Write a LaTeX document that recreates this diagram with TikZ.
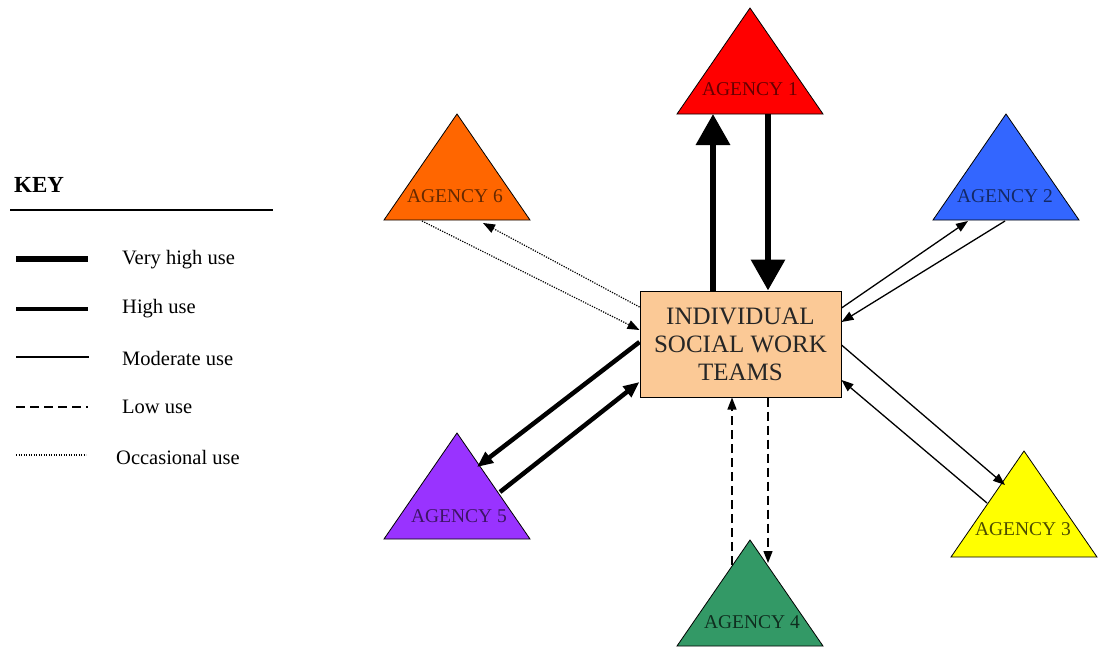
\documentclass[tikz,border=0pt]{standalone}
\usepackage{fontspec}
\setmainfont{Liberation Serif}
\usetikzlibrary{arrows.meta}
\definecolor{agred}{HTML}{FF0000}
\definecolor{agblue}{HTML}{3366FF}
\definecolor{agyellow}{HTML}{FFFF00}
\definecolor{aggreen}{HTML}{339966}
\definecolor{agpurple}{HTML}{9933FF}
\definecolor{agorange}{HTML}{FF6600}
\definecolor{teamfill}{HTML}{FBC996}
\begin{document}
\begin{tikzpicture}[x=1pt,y=-1pt,
		tri/.style={draw=black, line width=0.8pt},
		agtext/.style={font=\fontsize{19.5}{22}\selectfont, inner sep=0pt},
		keytext/.style={font=\fontsize{20.5}{24}\selectfont, inner sep=0pt, anchor=west},
		vhigh/.style={line width=6.5pt, -{Triangle[length=31pt,width=33pt]}},
		high/.style={line width=4.5pt, -{Triangle[length=16pt,width=13pt]}},
		moder/.style={line width=1.3pt, -{Triangle[length=12pt,width=9pt]}},
		low/.style={line width=1.3pt, dash pattern=on 9pt off 5pt, -{Triangle[length=12pt,width=9pt]}},
		occas/.style={line width=1.2pt, dash pattern=on 1.2pt off 1.3pt, -{Triangle[length=12pt,width=9pt]}}]
	\useasboundingbox (0,0) rectangle (1098,648);
	% key
	\node[font=\bfseries\fontsize{23}{26}\selectfont, inner sep=0pt, anchor=west] (key) at (14,185) {KEY};
	\draw[line width=1.8pt] (10,210) -- (273,210);
	\draw[vhigh, -] (16,259) -- (88,259);
	\draw[high, -] (16,309) -- (88,309);
	\draw[moder, -] (16,357) -- (89,357);
	\draw[low, -] (16,407) -- (88,407);
	\draw[occas, -] (16,455) -- (86,455);
	\node[keytext] (kvh) at (122,260) {Very high use};
	\node[keytext] (khi) at (122,309) {High use};
	\node[keytext] (kmo) at (122,358) {Moderate use};
	\node[keytext] (klo) at (122,407) {Low use};
	\node[keytext] (koc) at (116,457) {Occasional use};
	% agencies
	\path[tri, fill=agred] (750,8) -- (823,114) -- (677,114) -- cycle;
	\path[tri, fill=agblue] (1006,114) -- (1079,220) -- (933,220) -- cycle;
	\path[tri, fill=agyellow] (1024,451) -- (1097,557) -- (951,557) -- cycle;
	\path[tri, fill=aggreen] (750,540) -- (823,646) -- (677,646) -- cycle;
	\path[tri, fill=agpurple] (457,433) -- (530,539) -- (384,539) -- cycle;
	\path[tri, fill=agorange] (457,114) -- (530,220) -- (384,220) -- cycle;
	\node[agtext, text=agred!40!black] (a1) at (750,89) {AGENCY 1};
	\node[agtext, text=agblue!40!black] (a2) at (1005,196) {AGENCY 2};
	\node[agtext, text=agyellow!30!black] (a3) at (1023,529) {AGENCY 3};
	\node[agtext, text=aggreen!30!black] (a4) at (752,622) {AGENCY 4};
	\node[agtext, text=agpurple!40!black] (a5) at (459,516) {AGENCY 5};
	\node[agtext, text=agorange!40!black] (a6) at (455,196) {AGENCY 6};
	% centre
	\node[draw, line width=1pt, fill=teamfill, minimum width=201pt, minimum height=106pt,
		align=center, text=black!85, font=\fontsize{25}{28}\selectfont] (teams) at (740.5,344)
		{INDIVIDUAL\\SOCIAL WORK\\TEAMS};
	% ends on the triangles
	\coordinate (a1l) at (713,114);
	\coordinate (a1r) at (768,114);
	\coordinate (a2l) at (968,221);
	\coordinate (a2r) at (1005,221);
	\coordinate (a3t) at (1005,485);
	\coordinate (a3b) at (987,503);
	\coordinate (a4l) at (732,565);
	\coordinate (a4r) at (768,563);
	\coordinate (a5t) at (477,467);
	\coordinate (a5b) at (500,492);
	\coordinate (a6l) at (422,221);
	\coordinate (a6r) at (483,223);
	% connectors
	\draw[vhigh] (teams.north -| a1l) -- (a1l);
	\draw[vhigh] (a1r) -- (teams.north -| a1r);
	\draw[moder] ([shift={(0,-36)}]teams.east) -- (a2l);
	\draw[moder] (a2r) -- ([shift={(0,-22)}]teams.east);
	\draw[moder] ([shift={(0,1)}]teams.east) -- (a3t);
	\draw[moder] (a3b) -- ([shift={(0,36)}]teams.east);
	\draw[low] (a4l) -- (teams.south -| a4l);
	\draw[low] (teams.south -| a4r) -- (a4r);
	\draw[high] ([shift={(0,-2)}]teams.west) -- (a5t);
	\draw[high] (a5b) -- ([shift={(0,38)}]teams.west);
	\draw[occas] (a6l) -- ([shift={(0,-14)}]teams.west);
	\draw[occas] ([shift={(0,-37)}]teams.west) -- (a6r);
\end{tikzpicture}
\end{document}
